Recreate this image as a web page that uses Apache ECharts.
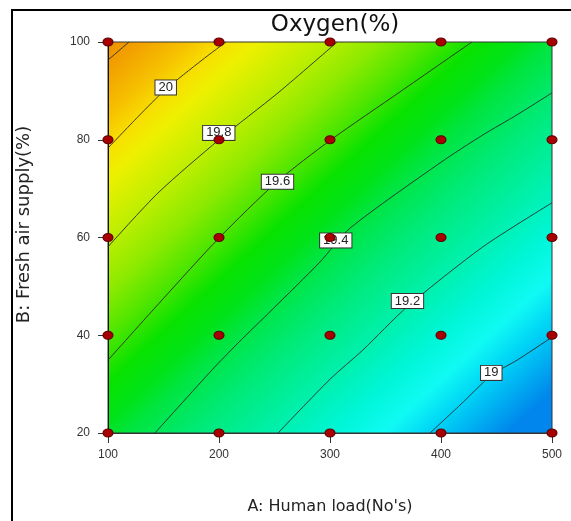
<!DOCTYPE html>
<html>
<head>
<meta charset="utf-8">
<title>Oxygen(%)</title>
<script src="https://cdn.jsdelivr.net/npm/echarts@6/dist/echarts.min.js"></script>
<style>
  html, body { margin: 0; padding: 0; background: #fff; }
  #chart { width: 571px; height: 521px; }
</style>
</head>
<body>
<div id="chart"></div>
<script>
// design points
var humanLoad = [100, 200, 300, 400, 500];
var airSupply = [20, 40, 60, 80, 100];

// contour lines, [A, B]
var contour20_2 = [[100, 96.3], [118.9, 100]];
var contour20 = [[100, 78.3], [127.0, 84.7], [151.4, 90.2], [184.7, 96.3], [206.3, 100]];
var contour19_8 = [[100, 58.1], [145.0, 69.1], [200, 80], [253.2, 89.6], [306.5, 100]];
var contour19_6 = [[100, 34.9], [148.6, 47.2], [200, 59.9], [252.3, 71.4], [300.9, 80], [363.1, 89.8], [427.9, 100]];
var contour19_4 = [[142.3, 20], [193.7, 32.9], [217.1, 38.4], [247.7, 45.2], [291.0, 55.0], [318.0, 61.9], [400, 75.4], [437.8, 81.0], [468.5, 85.1], [500, 89.6]];
var contour19_2 = [[253.2, 20], [300, 31.0], [329.7, 37.0], [369.4, 45.8], [437.8, 58.1], [500, 67.1]];
var contour19 = [[390.1, 20], [417.1, 25.7], [445.9, 31.9], [468.5, 34.9], [500, 39.6]];

var contourLabels = [
  [152.0, 90.7, '20'],
  [199.8, 81.4, '19.8'],
  [252.7, 71.4, '19.6'],
  [305.2, 59.4, '19.4'],
  [369.8, 47.0, '19.2'],
  [445.3, 32.3, '19']
];

var chart = echarts.init(document.getElementById('chart'));

var designPoints = [];
humanLoad.forEach(function (a) {
  airSupply.forEach(function (b) {
    designPoints.push([a, b]);
  });
});

var contours = [contour20_2, contour20, contour19_8, contour19_6, contour19_4, contour19_2, contour19];
var lineSeries = contours.map(function (pts) {
  return {
    type: 'line',
    data: pts,
    smooth: 0.25,
    showSymbol: false,
    silent: true,
    z: 3,
    lineStyle: { color: '#2b2b2b', width: 0.9 }
  };
});

var option = {
  animation: false,
  title: {
    text: 'Oxygen(%)',
    left: 330,
    top: 9,
    textAlign: 'center',
    textStyle: { fontFamily: 'DejaVu Sans', fontSize: 23, fontWeight: 'normal', color: '#111' }
  },
  graphic: [{
    type: 'rect',
    shape: { x: 12, y: 10, width: 580, height: 530 },
    style: { fill: 'none', stroke: '#000', lineWidth: 2 },
    silent: true
  }],
  grid: {
    left: 108, right: 19, top: 42, bottom: 88,
    show: true,
    borderColor: '#333',
    borderWidth: 1,
    backgroundColor: {
      type: 'linear', x: 0, y: 0, x2: 0.85, y2: 1.05,
      colorStops: [
        { offset: 0.0, color: '#EE8E00' },
        { offset: 0.05, color: '#F3A600' },
        { offset: 0.1, color: '#F6C200' },
        { offset: 0.14, color: '#F8DE00' },
        { offset: 0.18, color: '#EEF000' },
        { offset: 0.264, color: '#BCEE00' },
        { offset: 0.33, color: '#8CEA00' },
        { offset: 0.39, color: '#50E600' },
        { offset: 0.45, color: '#08E200' },
        { offset: 0.5, color: '#00E318' },
        { offset: 0.54, color: '#00E540' },
        { offset: 0.62, color: '#00EA78' },
        { offset: 0.706, color: '#00F0A8' },
        { offset: 0.79, color: '#00F6D8' },
        { offset: 0.85, color: '#10FAF4' },
        { offset: 0.904, color: '#00D4F6' },
        { offset: 1.0, color: '#0086EC' }
      ]
    }
  },
  xAxis: {
    type: 'value',
    min: 100, max: 500, interval: 100,
    name: "A: Human load(No's)",
    nameLocation: 'middle',
    nameGap: 66,
    nameTextStyle: { fontFamily: 'DejaVu Sans', fontSize: 16, color: '#222' },
    axisLine: { show: true, lineStyle: { color: '#333' } },
    axisTick: { show: true, length: 10, lineStyle: { color: '#333' } },
    axisLabel: { margin: 16, fontFamily: 'Liberation Sans', fontSize: 12, color: '#333' },
    splitLine: { show: false }
  },
  yAxis: {
    type: 'value',
    min: 20, max: 100, interval: 20,
    name: 'B: Fresh air supply(%)',
    nameLocation: 'middle',
    nameGap: 75,
    nameTextStyle: { fontFamily: 'DejaVu Sans', fontSize: 18, color: '#222', padding: [0, 0, 0, 26] },
    axisLine: { show: true, lineStyle: { color: '#111' } },
    axisTick: { show: true, length: 10, lineStyle: { color: '#333' } },
    axisLabel: { margin: 18, fontFamily: 'Liberation Sans', fontSize: 12, color: '#333' },
    splitLine: { show: false }
  },
  series: lineSeries.concat([
    {
      type: 'scatter',
      data: contourLabels,
      symbolSize: 1,
      itemStyle: { color: 'rgba(0,0,0,0)', opacity: 1 },
      silent: true,
      z: 4,
      label: {
        show: true,
        position: 'inside',
        formatter: function (p) { return p.data[2]; },
        fontFamily: 'Liberation Sans',
        fontSize: 13,
        lineHeight: 13,
        color: '#222',
        backgroundColor: '#fff',
        borderColor: '#333',
        borderWidth: 1,
        padding: [1, 3, 0, 3]
      }
    },
    {
      type: 'scatter',
      data: designPoints,
      symbol: 'circle',
      symbolSize: [10, 8],
      clip: false,
      silent: true,
      z: 5,
      itemStyle: { color: '#A80000', borderColor: '#600000', borderWidth: 1, opacity: 1 }
    }
  ])
};

chart.setOption(option);
</script>
</body>
</html>
